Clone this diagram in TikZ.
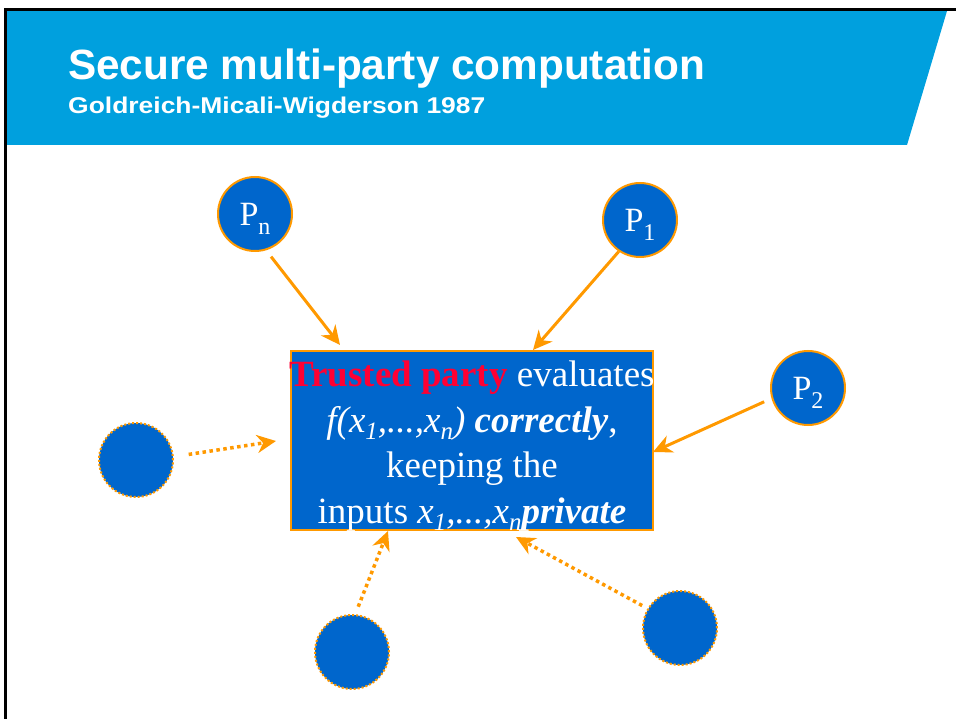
\documentclass[tikz,border=0pt]{standalone}
\usepackage{fontspec}
\setmainfont{Liberation Serif}
\newfontfamily\headfont{Liberation Sans}
\usepackage{graphicx}
\usetikzlibrary{arrows.meta}
\definecolor{bannerblue}{RGB}{0,160,222}
\definecolor{partyblue}{RGB}{0,102,204}
\definecolor{arrorange}{RGB}{255,153,0}
\definecolor{trustred}{RGB}{255,0,51}
\newcommand{\psub}[1]{\raisebox{-9pt}[0pt][0pt]{\fontsize{24}{24}\selectfont #1}}
\newcommand{\xsub}[1]{\raisebox{-7pt}{\fontsize{25}{25}\selectfont #1}}
\begin{document}
\begin{tikzpicture}[x=1pt,y=-1pt,>={Stealth[length=19pt,width=18pt,inset=6pt]},
	party/.style={circle,minimum size=74pt,inner sep=0pt,fill=partyblue,draw=arrorange,line width=2pt,text=white,font=\fontsize{34}{34}\selectfont},
	anon/.style={circle,minimum size=74pt,inner sep=0pt,fill=partyblue,draw=arrorange,line width=2pt,dash pattern=on 2pt off 2pt},
	send/.style={->,arrorange,line width=3pt},
	leak/.style={->,arrorange,line width=3.5pt,dash pattern=on 3.5pt off 3.5pt}]
	\useasboundingbox (0,0) rectangle (956,719);
	% banner
	\fill[bannerblue] (7,11) -- (947,11) -- (907,145) -- (7,145) -- cycle;
	\draw[line width=3pt] (956,9.5) -- (5.5,9.5) -- (5.5,719);
	\node[anchor=base west,inner sep=0pt,text=white,font=\headfont\bfseries\fontsize{42.3}{50}\selectfont] (ttl) at (68,80) {Secure multi-party computation};
	\node[anchor=base west,inner sep=0pt,text=white,font=\headfont\bfseries\fontsize{22.8}{27}\selectfont] (sub) at (68,114) {\scalebox{1.16}[1]{Goldreich-Micali-Wigderson 1987}};
	% trusted party
	\node[draw=arrorange,fill=partyblue,line width=2.5pt,minimum width=362pt,minimum height=179pt,inner sep=0pt] (tp) at (472,440.5) {};
	\node[inner sep=0pt,text=white,align=center,font=\fontsize{37}{45.5}\selectfont] (tptext) at (472,446)
		{\textcolor{trustred}{\textbf{Trusted party}} evaluates\\
		\textit{f(x\xsub{1},...,x\xsub{n})} \textbf{\textit{correctly}},\\
		keeping the\\
		inputs \textit{x\xsub{1},...,x\xsub{n}}\textbf{\textit{private}}};
	% parties
	\node[party] (pn) at (255,214) {P\psub{n}};
	\node[party] (p1) at (640,220) {P\psub{1}};
	\node[party] (p2) at (808,388) {P\psub{2}};
	\foreach \name/\x/\y in {qa/136/460,qb/352/652,qc/680/628}
		\node[anon] (\name) at (\x,\y) {};
	\coordinate (tn) at (340,345);
	\coordinate (t1) at (533,350);
	\coordinate (t2) at (653,452);
	\coordinate (ta) at (276,441);
	\coordinate (tb) at (388,531);
	\coordinate (tc) at (516,537);
	\draw[send,shorten <=8pt] (pn.-73) -- (tn);
	\draw[send] (p1.-124) -- (t1);
	\draw[send,shorten <=8pt] (p2.-164) -- (t2);
	\draw[leak,shorten <=15pt] (qa.5) -- (ta);
	\draw[leak,shorten <=8pt] (qb.85) -- (tb);
	\draw[leak,shorten <=6pt] (qc.149) -- (tc);
\end{tikzpicture}
\end{document}
